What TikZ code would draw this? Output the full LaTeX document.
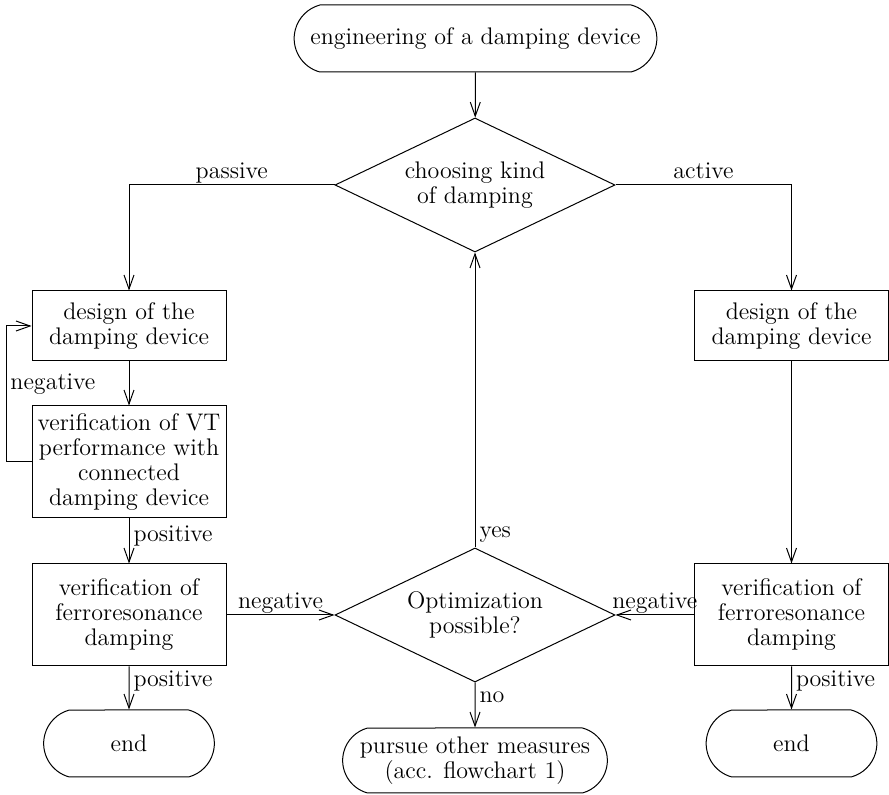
\documentclass[tikz,border=0pt]{standalone}
\usepackage{tikz}
\usetikzlibrary{shapes, arrows.meta, positioning, calc}

\begin{document}
\begin{tikzpicture}[x=0.5pt, y=-0.5pt, font=\fontsize{12}{12.5}\selectfont,
	line width=0.5pt, >={Straight Barb[length=7pt,width=5pt]},
	block/.style={draw, rectangle, align=center, minimum width=97pt, inner sep=2pt},
	term/.style={draw, rounded rectangle, rounded rectangle arc length=150, align=center, minimum height=33.5pt},
	decide/.style={draw, diamond, aspect=2.1, align=center, minimum width=140pt, minimum height=67pt, inner sep=0pt},
	lbl/.style={inner sep=2pt, text depth=0.25ex}]
	\useasboundingbox (0,0) rectangle (889,795);
	% start and choice
	\node[term, minimum width=188pt] (start) at (475.5,38.5) {engineering of a damping device};
	\node[decide] (kind) at (475,185) {choosing kind\\of damping};
	% passive branch
	\node[block, minimum height=35pt] (pdesign) at (129,326) {design of the\\damping device};
	\node[block, minimum height=56pt] (pverify) at (129,462) {verification of VT\\performance with\\connected\\damping device};
	\node[block, minimum height=51pt] (pferro) at (129,615) {verification of\\ferroresonance\\damping};
	\node[term, minimum width=92pt] (pend) at (129,743.5) {end};
	% active branch
	\node[block, minimum height=35pt] (adesign) at (791.5,326) {design of the\\damping device};
	\node[block, minimum height=51pt] (aferro) at (791.5,615) {verification of\\ferroresonance\\damping};
	\node[term, minimum width=92pt] (aend) at (791.5,743.5) {end};
	% optimization
	\node[decide] (optim) at (475,615) {Optimization\\possible?};
	\node[term, minimum width=139pt, minimum height=32.5pt] (other) at (475,760.5) {pursue other measures\\(acc. flowchart 1)};
	\coordinate (loop) at (6,462);

	\draw[->] (start) -- (kind);
	\draw[->] (kind.west) -| node[lbl, pos=0.25, above] {passive} (pdesign.north);
	\draw[->] (kind.east) -| node[lbl, pos=0.25, above] {active} (adesign.north);
	\draw[->] (pdesign) -- (pverify);
	\draw[->] (pverify.west) -- (loop) |- node[lbl, pos=0.29, right] {negative} (pdesign.west);
	\draw[->] (pverify) -- node[lbl, pos=0.35, right] {positive} (pferro);
	\draw[->] (pferro) -- node[lbl, above] {negative} (optim.west);
	\draw[->] (pferro) -- node[lbl, pos=0.3, right] {positive} (pend);
	\draw[->] (adesign) -- (aferro);
	\draw[->] (aferro) -- node[lbl, above] {negative} (optim.east);
	\draw[->] (aferro) -- node[lbl, pos=0.3, right] {positive} (aend);
	\draw[->] (optim) -- node[lbl, pos=0.05, right] {yes} (kind);
	\draw[->] (optim) -- node[lbl, pos=0.35, right] {no} (other);
\end{tikzpicture}
\end{document}
